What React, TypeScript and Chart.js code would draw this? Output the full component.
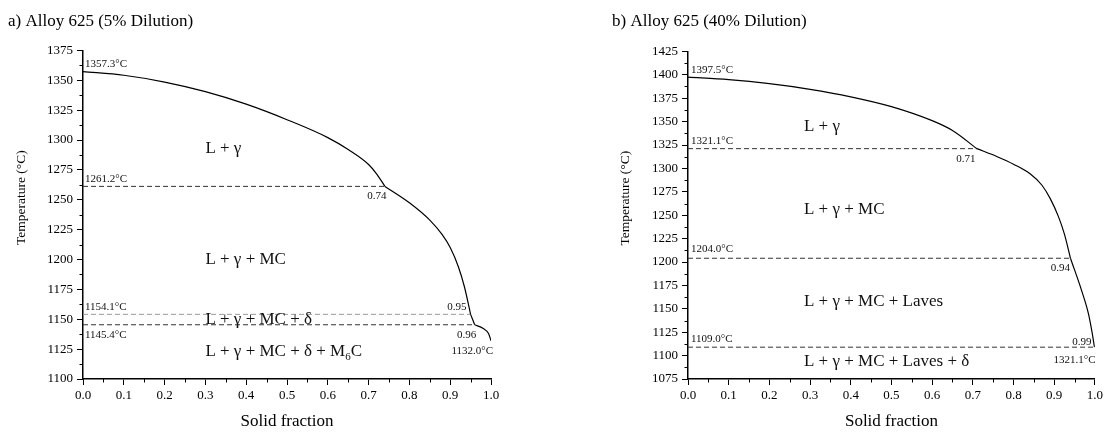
import React, { useEffect, useRef } from "react";
import { Chart, registerables } from "chart.js";

Chart.register(...registerables);

// ---------------- Panel a) Alloy 625 (5% Dilution) ----------------
const A_SEG1_FS = [0, 0.1, 0.2, 0.3, 0.4, 0.5, 0.6, 0.65, 0.7, 0.72, 0.74];
const A_SEG1_T = [1357.3, 1354.2, 1348.5, 1340.5, 1330.0, 1317.0, 1302.0, 1292.0, 1279.5, 1271.5, 1261.2];
const A_SEG2_FS = [0.74, 0.8, 0.85, 0.88, 0.9, 0.92, 0.935, 0.95];
const A_SEG2_T = [1261.2, 1247.5, 1233.0, 1221.0, 1210.0, 1194.0, 1177.0, 1154.1];
const A_SEG3_FS = [0.95, 0.96];
const A_SEG3_T = [1154.1, 1145.4];
const A_SEG4_FS = [0.96, 0.981, 0.994, 1.0];
const A_SEG4_T = [1145.4, 1142.3, 1138.1, 1132.0];
const A_ISO_T = [1261.2, 1154.1, 1145.4];
const A_ISO_END = [0.74, 0.95, 0.96];
const A_Y_MIN = 1100;
const A_Y_MAX = 1375;

// ---------------- Panel b) Alloy 625 (40% Dilution) ----------------
const B_SEG1_FS = [0, 0.1, 0.2, 0.3, 0.4, 0.5, 0.6, 0.65, 0.71];
const B_SEG1_T = [1397.5, 1394.8, 1390.5, 1384.5, 1376.5, 1366.0, 1351.0, 1340.5, 1321.1];
const B_SEG2_FS = [0.71, 0.76, 0.8, 0.84, 0.87, 0.89, 0.91, 0.925, 0.94];
const B_SEG2_T = [1321.1, 1312.5, 1304.5, 1294.5, 1282.0, 1268.0, 1249.0, 1230.0, 1204.0];
const B_SEG3_FS = [0.94, 0.967, 0.984, 0.993, 0.999];
const B_SEG3_T = [1204.0, 1170.0, 1145.0, 1125.0, 1109.0];
const B_ISO_T = [1321.1, 1204.0, 1109.0];
const B_ISO_END = [0.71, 0.94, 0.999];
const B_Y_MIN = 1075;
const B_Y_MAX = 1425;

const X_MIN = 0;
const X_MAX = 1;
const X_STEP = 0.1;
const Y_STEP = 25;

const SERIF = "'Liberation Serif', 'Times New Roman', serif";

type Part = { t: string; sub?: boolean };
type Note = { text: string; x: number; y: number; dx: number; dy: number; align: CanvasTextAlign };
type Region = { parts: Part[]; x: number; y: number };

const A_NOTES: Note[] = [
  { text: "1357.3°C", x: 0, y: 1357.3, dx: 2, dy: -5, align: "left" },
  { text: "1261.2°C", x: 0, y: 1261.2, dx: 2, dy: -4, align: "left" },
  { text: "0.74", x: 0.74, y: 1261.2, dx: -8, dy: 13, align: "center" },
  { text: "1154.1°C", x: 0, y: 1154.1, dx: 2, dy: -4, align: "left" },
  { text: "1145.4°C", x: 0, y: 1145.4, dx: 2, dy: 13, align: "left" },
  { text: "0.95", x: 0.95, y: 1154.1, dx: -4, dy: -4, align: "right" },
  { text: "0.96", x: 0.96, y: 1145.4, dx: -8, dy: 13, align: "center" },
  { text: "1132.0°C", x: 1.0, y: 1132.0, dx: 2, dy: 13, align: "right" },
];
const A_REGIONS: Region[] = [
  { parts: [{ t: "L + γ" }], x: 0.3, y: 1293 },
  { parts: [{ t: "L + γ + MC" }], x: 0.3, y: 1199.6 },
  { parts: [{ t: "L + γ + MC + δ" }], x: 0.3, y: 1150.1 },
  { parts: [{ t: "L + γ + MC + δ + M" }, { t: "6", sub: true }, { t: "C" }], x: 0.3, y: 1122.7 },
];

const B_NOTES: Note[] = [
  { text: "1397.5°C", x: 0, y: 1397.5, dx: 3, dy: -4.5, align: "left" },
  { text: "1321.1°C", x: 0, y: 1321.1, dx: 3, dy: -5, align: "left" },
  { text: "0.71", x: 0.71, y: 1321.1, dx: -11, dy: 13, align: "center" },
  { text: "1204.0°C", x: 0, y: 1204.0, dx: 3, dy: -6, align: "left" },
  { text: "0.94", x: 0.94, y: 1204.0, dx: -10, dy: 12.5, align: "center" },
  { text: "1109.0°C", x: 0, y: 1109.0, dx: 3, dy: -5, align: "left" },
  { text: "0.99", x: 0.999, y: 1109.0, dx: -3, dy: -2, align: "right" },
  { text: "1321.1°C", x: 0.999, y: 1109.0, dx: 1, dy: 16, align: "right" },
];
const B_REGIONS: Region[] = [
  { parts: [{ t: "L + γ" }], x: 0.285, y: 1345 },
  { parts: [{ t: "L + γ + MC" }], x: 0.285, y: 1255.7 },
  { parts: [{ t: "L + γ + MC + Laves" }], x: 0.285, y: 1157.3 },
  { parts: [{ t: "L + γ + MC + Laves + δ" }], x: 0.285, y: 1093.4 },
];

function toPts(fs: number[], t: number[]) {
  return fs.map((f, i) => ({ x: f, y: t[i] }));
}

const minorTicks = {
  id: "minorTicks",
  afterDraw(chart: any) {
    const { ctx } = chart;
    const xs = chart.scales.x;
    const ys = chart.scales.y;
    ctx.save();
    ctx.strokeStyle = "#000";
    ctx.lineWidth = 1;
    const xt = xs.ticks;
    for (let i = 0; i < xt.length - 1; i++) {
      const v = (xt[i].value + xt[i + 1].value) / 2;
      const px = Math.round(xs.getPixelForValue(v)) + 0.5;
      ctx.beginPath();
      ctx.moveTo(px, xs.top);
      ctx.lineTo(px, xs.top + 3.5);
      ctx.stroke();
    }
    const yt = ys.ticks;
    for (let i = 0; i < yt.length - 1; i++) {
      const v = (yt[i].value + yt[i + 1].value) / 2;
      const py = Math.round(ys.getPixelForValue(v)) + 0.5;
      ctx.beginPath();
      ctx.moveTo(ys.right, py);
      ctx.lineTo(ys.right - 3.5, py);
      ctx.stroke();
    }
    ctx.restore();
  },
};

const annotations = {
  id: "annotations",
  afterDraw(chart: any, _args: any, opts: any) {
    const { ctx, chartArea } = chart;
    const xs = chart.scales.x;
    const ys = chart.scales.y;
    ctx.save();
    ctx.fillStyle = "#111";
    ctx.textBaseline = "alphabetic";
    ctx.font = `11px ${SERIF}`;
    for (const n of opts.notes as Note[]) {
      ctx.textAlign = n.align;
      ctx.fillText(n.text, xs.getPixelForValue(n.x) + n.dx, ys.getPixelForValue(n.y) + n.dy);
    }
    ctx.textAlign = "left";
    ctx.textBaseline = "middle";
    for (const r of opts.regions as Region[]) {
      let px = xs.getPixelForValue(r.x);
      const py = ys.getPixelForValue(r.y);
      for (const p of r.parts) {
        if (p.sub) {
          ctx.font = `11px ${SERIF}`;
          ctx.fillText(p.t, px, py + 5);
        } else {
          ctx.font = `17px ${SERIF}`;
          ctx.fillText(p.t, px, py);
        }
        px += ctx.measureText(p.t).width;
      }
    }
    // rotated y-axis title
    ctx.fillStyle = "#000";
    ctx.font = `13.5px ${SERIF}`;
    ctx.textAlign = "center";
    ctx.translate(opts.yTitleX, (chartArea.top + chartArea.bottom) / 2 - 17);
    ctx.rotate(-Math.PI / 2);
    ctx.fillText("Temperature (°C)", 0, 0);
    ctx.restore();
  },
};

type PanelProps = {
  title: string;
  segs: { fs: number[]; t: number[] }[];
  isoT: number[];
  isoEnd: number[];
  lightIso: number;
  yMin: number;
  yMax: number;
  notes: Note[];
  regions: Region[];
  width: number;
  left: number;
  yWidth: number;
  padRight: number;
  titleBottom: number;
};

function Panel(p: PanelProps) {
  const ref = useRef<HTMLCanvasElement | null>(null);
  useEffect(() => {
    if (!ref.current) return;
    const tickFont = { family: SERIF, size: 13 };
    const datasets: any[] = [];
    p.segs.forEach((s) => {
      datasets.push({
        data: toPts(s.fs, s.t),
        borderColor: "#000",
        borderWidth: 1.2,
        pointRadius: 0,
        fill: false,
        cubicInterpolationMode: "monotone",
      });
    });
    p.isoT.forEach((t, i) => {
      datasets.push({
        data: [
          { x: 0, y: t },
          { x: p.isoEnd[i], y: t },
        ],
        borderColor: i === p.lightIso ? "#9a9a9a" : "#333",
        borderWidth: 1,
        borderDash: [5, 3],
        pointRadius: 0,
        fill: false,
      });
    });
    const chart = new Chart(ref.current, {
      type: "line",
      data: { datasets },
      plugins: [minorTicks, annotations],
      options: {
        animation: false,
        responsive: false,
        layout: { padding: { left: 8, right: p.padRight, top: 0, bottom: 0 } },
        plugins: {
          legend: { display: false },
          tooltip: { enabled: false },
          title: {
            display: true,
            text: p.title,
            align: "start",
            color: "#000",
            font: { family: SERIF, size: 17, weight: "normal" },
            padding: { top: 11, bottom: p.titleBottom },
          },
          annotations: { notes: p.notes, regions: p.regions, yTitleX: 21.5 },
        } as any,
        scales: {
          x: {
            type: "linear",
            min: X_MIN,
            max: X_MAX,
            afterFit: (s: any) => {
              s.height = 53;
            },
            ticks: {
              stepSize: X_STEP,
              autoSkip: false,
              maxRotation: 0,
              color: "#000",
              font: tickFont,
              padding: 3,
              callback: (v: any) => Number(v).toFixed(1),
            },
            grid: { drawOnChartArea: false, drawTicks: true, tickLength: 6, color: "#000", lineWidth: 1 },
            border: { display: true, color: "#000", width: 1.5 },
            title: {
              display: true,
              text: "Solid fraction",
              color: "#000",
              font: { family: SERIF, size: 17 },
              padding: { top: 0, bottom: 0 },
            },
          },
          y: {
            type: "linear",
            min: p.yMin,
            max: p.yMax,
            afterFit: (s: any) => {
              s.width = p.yWidth;
            },
            ticks: {
              stepSize: Y_STEP,
              autoSkip: false,
              color: "#000",
              font: tickFont,
              padding: 4,
              callback: (v: any) => String(Math.round(Number(v))),
            },
            grid: { drawOnChartArea: false, drawTicks: true, tickLength: 6, color: "#000", lineWidth: 1 },
            border: { display: true, color: "#000", width: 1.5 },
            title: { display: false },
          },
        },
      } as any,
    });
    return () => chart.destroy();
  }, []);
  return (
    <canvas
      ref={ref}
      width={p.width}
      height={432}
      style={{ position: "absolute", left: p.left, top: 0, width: p.width, height: 432, display: "block" }}
    />
  );
}

export default function App() {
  return (
    <div style={{ position: "absolute", left: 0, top: 0, width: 1106, height: 432, background: "#fff" }}>
      <Panel
        title="a) Alloy 625 (5% Dilution)"
        segs={[
          { fs: A_SEG1_FS, t: A_SEG1_T },
          { fs: A_SEG2_FS, t: A_SEG2_T },
          { fs: A_SEG3_FS, t: A_SEG3_T },
          { fs: A_SEG4_FS, t: A_SEG4_T },
        ]}
        isoT={A_ISO_T}
        isoEnd={A_ISO_END}
        lightIso={1}
        yMin={A_Y_MIN}
        yMax={A_Y_MAX}
        notes={A_NOTES}
        regions={A_REGIONS}
        width={520}
        left={0}
        yWidth={75}
        padRight={29}
        titleBottom={19}
      />
      <Panel
        title="b) Alloy 625 (40% Dilution)"
        segs={[
          { fs: B_SEG1_FS, t: B_SEG1_T },
          { fs: B_SEG2_FS, t: B_SEG2_T },
          { fs: B_SEG3_FS, t: B_SEG3_T },
        ]}
        isoT={B_ISO_T}
        isoEnd={B_ISO_END}
        lightIso={-1}
        yMin={B_Y_MIN}
        yMax={B_Y_MAX}
        notes={B_NOTES}
        regions={B_REGIONS}
        width={502}
        left={604}
        yWidth={76}
        padRight={9}
        titleBottom={20}
      />
    </div>
  );
}
